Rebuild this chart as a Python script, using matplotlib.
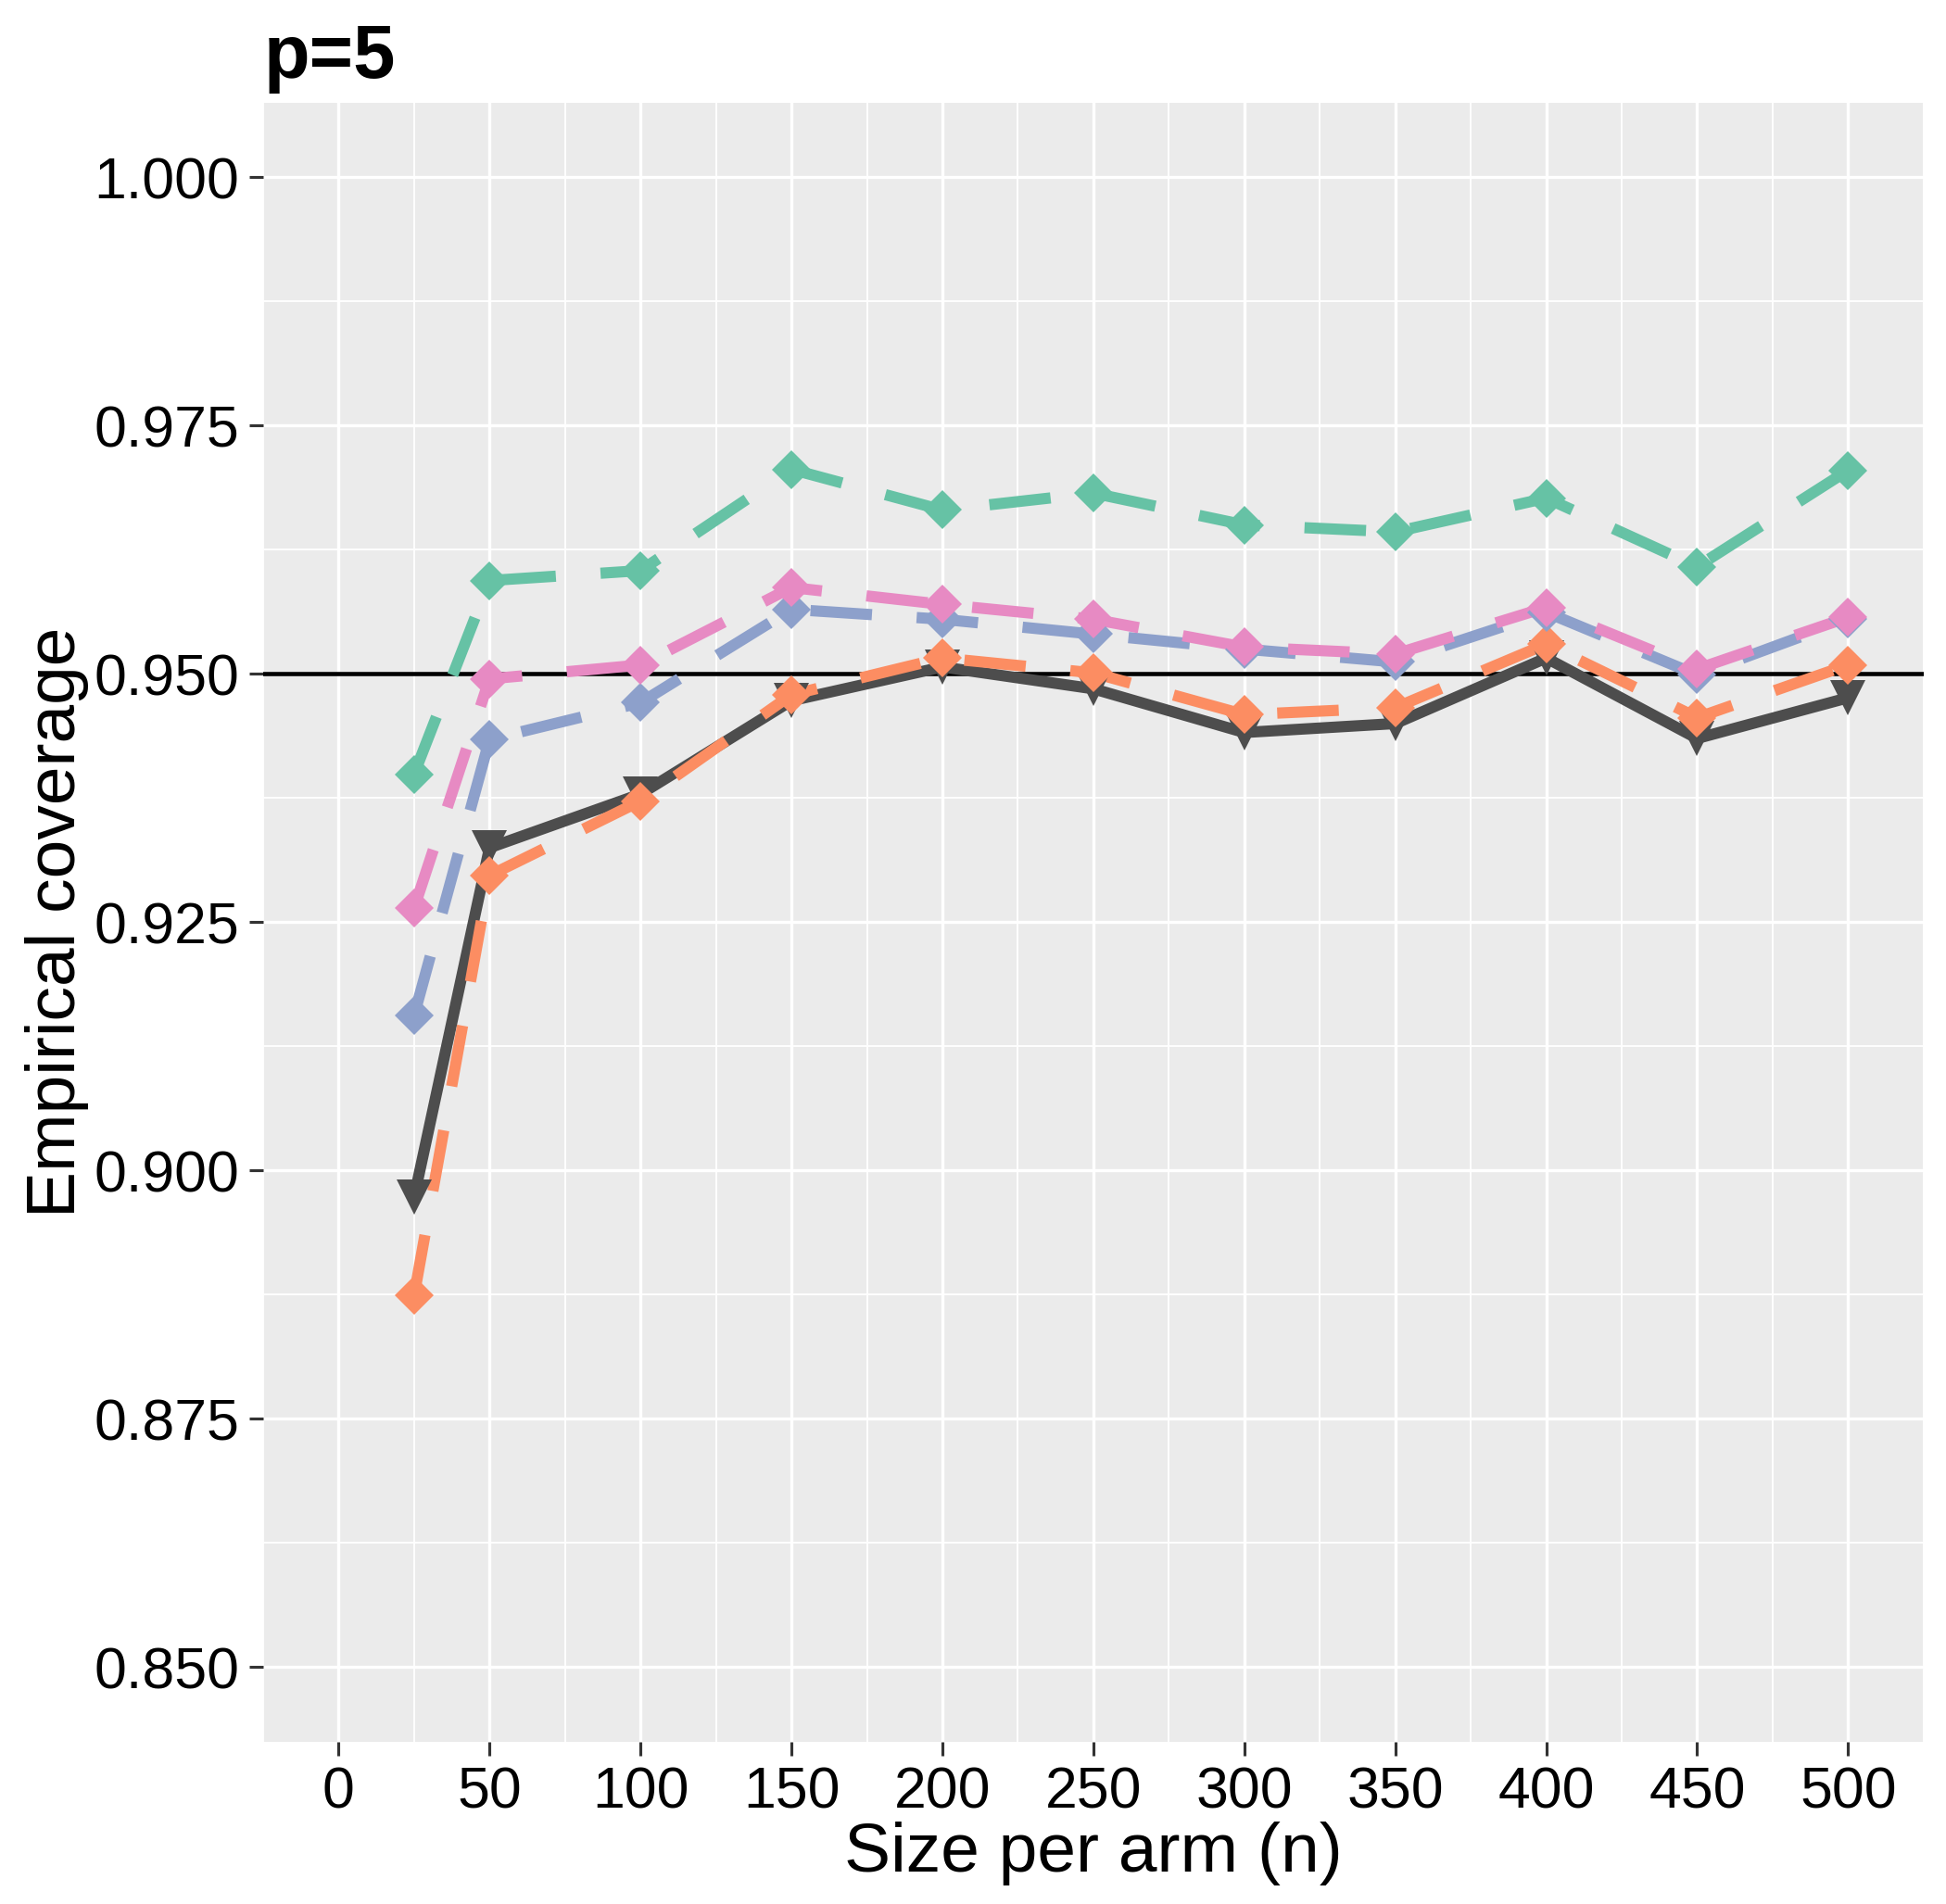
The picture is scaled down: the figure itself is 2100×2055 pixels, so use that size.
import matplotlib.pyplot as plt
import numpy as np
from matplotlib.ticker import MultipleLocator, FormatStrFormatter

plt.rcParams['font.family'] = ['Liberation Sans', 'DejaVu Sans']

# sample size per arm
n_values = [25, 50, 100, 150, 200, 250, 300, 350, 400, 450, 500]

# empirical coverage of each method
cov_green = [0.9399, 0.9594, 0.9604, 0.9706, 0.9665, 0.9682, 0.9650, 0.9643, 0.9677, 0.9608, 0.9705]
cov_pink = [0.9264, 0.9495, 0.9509, 0.9587, 0.9570, 0.9555, 0.9527, 0.9520, 0.9567, 0.9505, 0.9557]
cov_blue = [0.9156, 0.9434, 0.9471, 0.9565, 0.9555, 0.9540, 0.9525, 0.9512, 0.9562, 0.9499, 0.9555]
cov_orange = [0.8874, 0.9297, 0.9372, 0.9479, 0.9516, 0.9501, 0.9459, 0.9466, 0.9530, 0.9456, 0.9509]
cov_dark = [0.8973, 0.9325, 0.9379, 0.9473, 0.9507, 0.9485, 0.9441, 0.9450, 0.9516, 0.9435, 0.9476]

nominal = 0.95
x_ticks = [0, 50, 100, 150, 200, 250, 300, 350, 400, 450, 500]
y_ticks = [0.850, 0.875, 0.900, 0.925, 0.950, 0.975, 1.000]

# (values, colour, marker, dashed)
series = [(cov_dark, "#4D4D4D", "v", False),
          (cov_green, "#66C2A5", "D", True),
          (cov_orange, "#FC8D62", "D", True),
          (cov_blue, "#8DA0CB", "D", True),
          (cov_pink, "#E78AC3", "D", True)]

fig = plt.figure(figsize=(7.0, 6.85), dpi=300)
ax = fig.add_axes([0.1352, 0.0853, 0.8533, 0.8607])
ax.set_facecolor("#EBEBEB")
for s in ax.spines.values():
    s.set_visible(False)

ax.set_xlim(-25, 525)
ax.set_ylim(0.8425, 1.0075)
ax.xaxis.set_major_locator(MultipleLocator(50))
ax.xaxis.set_minor_locator(MultipleLocator(25))
ax.yaxis.set_major_locator(MultipleLocator(0.025))
ax.yaxis.set_minor_locator(MultipleLocator(0.0125))
ax.set_xticks(x_ticks)
ax.set_yticks(y_ticks)
ax.yaxis.set_major_formatter(FormatStrFormatter("%.3f"))
ax.grid(which="major", color="white", linewidth=0.8)
ax.grid(which="minor", color="white", linewidth=0.45)
ax.set_axisbelow(True)
ax.tick_params(which="major", length=3.7, width=0.75, color="#333333",
               labelsize=15, labelcolor="black", pad=2.4)
ax.tick_params(which="minor", length=0)

ax.axhline(nominal, color="black", linewidth=1.1, zorder=2)

# lines first, then the points on top (like ggplot layers)
for vals, col, mk, dashed in series:
    line, = ax.plot(n_values, vals, color=col, linewidth=2.9, zorder=3,
                    solid_capstyle="butt", dash_capstyle="butt")
    if dashed:
        line.set_dashes((5.5, 4.0))
for vals, col, mk, dashed in series:
    ms = 9.0 if mk == "v" else 7.0
    ax.plot(n_values, vals, linestyle="none", marker=mk, markersize=ms,
            color=col, markeredgewidth=0, zorder=4)

ax.set_xlabel("Size per arm (n)", fontsize=18)
ax.set_ylabel("Empirical coverage", fontsize=18)
ax.xaxis.set_label_coords(0.5, -0.049)
ax.yaxis.set_label_coords(-0.105, 0.5)

fig.text(0.1355, 0.959, "p=5", fontsize=19.5, fontweight="bold", va="baseline", ha="left")

fig.savefig("out.png", dpi=300)
